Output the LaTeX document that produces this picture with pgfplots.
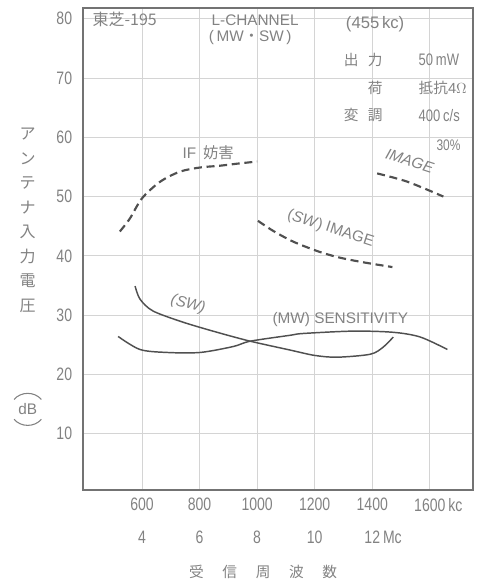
\documentclass[border=0pt]{standalone}
\usepackage{pgfplots}
\pgfplotsset{compat=1.18}
\usepackage{fontspec}
\setmainfont{Liberation Sans}
\newfontfamily\cjk{Noto Sans CJK JP}
\newfontfamily\narrow[FakeStretch=0.78]{Liberation Sans}
\definecolor{txt}{RGB}{130,130,130}
\definecolor{ln}{RGB}{80,80,80}
\definecolor{grd}{RGB}{212,212,212}
\definecolor{frm}{RGB}{115,115,115}
\begin{document}
\begin{tikzpicture}
\begin{axis}[name=ax, scale only axis, width=292.5pt, height=361.5pt,
  xmin=395, xmax=1750, ymin=0.5, ymax=81.8,
  axis line style={frm, line width=1pt},
  xtick={600,800,1000,1200,1400,1600},
  xticklabels={{600\\4},{800\\6},{1000\\8},{1200\\10},{1400\\12\rlap{\,Mc}},{1600\rlap{\,kc}\\\phantom{0}}},
  xticklabel style={align=center, font=\narrow\fontsize{13.5}{24.75}\selectfont, text=txt, inner sep=0pt, yshift=-6pt},
  ytick={10,20,30,40,50,60,70,80},
  yticklabel style={font=\narrow\fontsize{13.5}{15}\selectfont, text=txt, inner sep=0pt, xshift=-8pt},
  major tick length=0pt,
  grid=major, grid style={grd, line width=0.6pt},
  clip=false,
  /pgf/number format/assume math mode=true,
]
% IF interference (dashed)
\addplot[ln, line width=1.6pt, dash pattern=on 6pt off 3.5pt, smooth] coordinates {
(523,44.1) (558,46.3) (600,49.7) (663,52.5) (732,54.2) (802,54.9) (871,55.2) (941,55.6) (1000,55.9)};
% MW image (dashed)
\addplot[ln, line width=1.6pt, dash pattern=on 6pt off 3.5pt, smooth] coordinates {
(1417,53.9) (1522,52.5) (1647,50.0)};
% SW image (dashed)
\addplot[ln, line width=1.6pt, dash pattern=on 6pt off 3.5pt, smooth] coordinates {
(1003,45.9) (1056,44.2) (1125,42.4) (1209,40.8) (1278,39.8) (1358,39.0) (1470,38.1)};
% SW sensitivity
\addplot[ln, line width=1.1pt, smooth] coordinates {
(576,34.9) (593,32.7) (638,30.7) (743,28.8) (861,27.1) (976,25.6) (1115,24.1) (1200,23.2) (1278,22.9) (1393,23.4) (1438,24.6) (1473,26.3)};
% MW sensitivity
\addplot[ln, line width=1.1pt, smooth] coordinates {
(517,26.4) (593,24.2) (687,23.7) (802,23.7) (917,24.7) (976,25.6) (1115,26.6) (1160,26.9) (1334,27.3) (1473,27.1) (1567,26.3) (1661,24.2)};

% annotations
\begin{scope}[every node/.style={text=txt}]
\node[anchor=west, font=\cjk\fontsize{12}{14}\selectfont] at (axis cs:412,79.8) {東芝-195};
\node[font=\fontsize{11.5}{14}\selectfont] at (axis cs:993,79.8) {L-CHANNEL};
\node[font=\fontsize{11.5}{14}\selectfont] at (axis cs:976,76.8) {(\,MW{\cjk ・}SW\,)};
\node[font=\fontsize{12.5}{14}\selectfont] at (axis cs:1410,79.0) {(455\,kc)};
\node[anchor=west, font=\cjk\fontsize{11}{13}\selectfont] at (axis cs:1285,73.0) {出\hspace{7pt}力};
\node[anchor=west, font=\cjk\fontsize{11}{13}\selectfont] at (axis cs:1285,68.3) {\phantom{出}\hspace{7pt}荷};
\node[anchor=west, font=\cjk\fontsize{11}{13}\selectfont] at (axis cs:1285,63.7) {変\hspace{7pt}調};
\node[anchor=west, font=\narrow\fontsize{12.5}{13}\selectfont] at (axis cs:1545,73.0) {50\,mW};
\node[anchor=west, font=\fontsize{11}{13}\selectfont] at (axis cs:1545,68.3) {{\cjk 抵抗}4$\Omega$};
\node[anchor=west, font=\narrow\fontsize{12.5}{13}\selectfont] at (axis cs:1545,63.7) {400\,c/s};
\node[font=\narrow\fontsize{11.5}{13}\selectfont] at (axis cs:1665,58.6) {30\%};
\node[font=\fontsize{11.5}{13}\selectfont] at (axis cs:830,57.4) {IF\, {\cjk 妨害}};
\node[font=\itshape\fontsize{11.5}{13}\selectfont, rotate=-18] at (axis cs:1530,56.0) {IMAGE};
\node[font=\fontsize{11.5}{13}\selectfont, rotate=-18] at (axis cs:1255,44.6) {(\textit{SW}) IMAGE};
\node[font=\itshape\fontsize{11.5}{13}\selectfont, rotate=-15] at (axis cs:760,31.8) {(SW)};
\node[font=\fontsize{11.5}{13}\selectfont] at (axis cs:1289,29.3) {(MW) SENSITIVITY};
% y label
\node[font=\cjk\fontsize{12}{18.4}\selectfont, align=center] at (axis cs:203,46.0) {ア\\ン\\テ\\ナ\\入\\力\\電\\圧};
\node[font=\fontsize{11.5}{13}\selectfont, inner sep=1pt] (db) at (axis cs:203,14.1) {dB};
\end{scope}
\draw[txt, line width=0.8pt] ([xshift=-2pt,yshift=2pt]db.north west) to[bend left=50] ([xshift=2pt,yshift=2pt]db.north east);
\draw[txt, line width=0.8pt] ([xshift=-2pt,yshift=-2pt]db.south west) to[bend right=50] ([xshift=2pt,yshift=-2pt]db.south east);
% x label
\node[text=txt, font=\cjk\fontsize{11}{13}\selectfont] at (axis cs:1021,-13.4) {受\hspace{14pt}信\hspace{14pt}周\hspace{14pt}波\hspace{14pt}数};
\end{axis}
\pgfresetboundingbox
\path[use as bounding box] ([shift={(-62.25pt,-71.25pt)}]ax.south west) rectangle ([shift={(5.25pt,6pt)}]ax.north east);
\end{tikzpicture}
\end{document}
